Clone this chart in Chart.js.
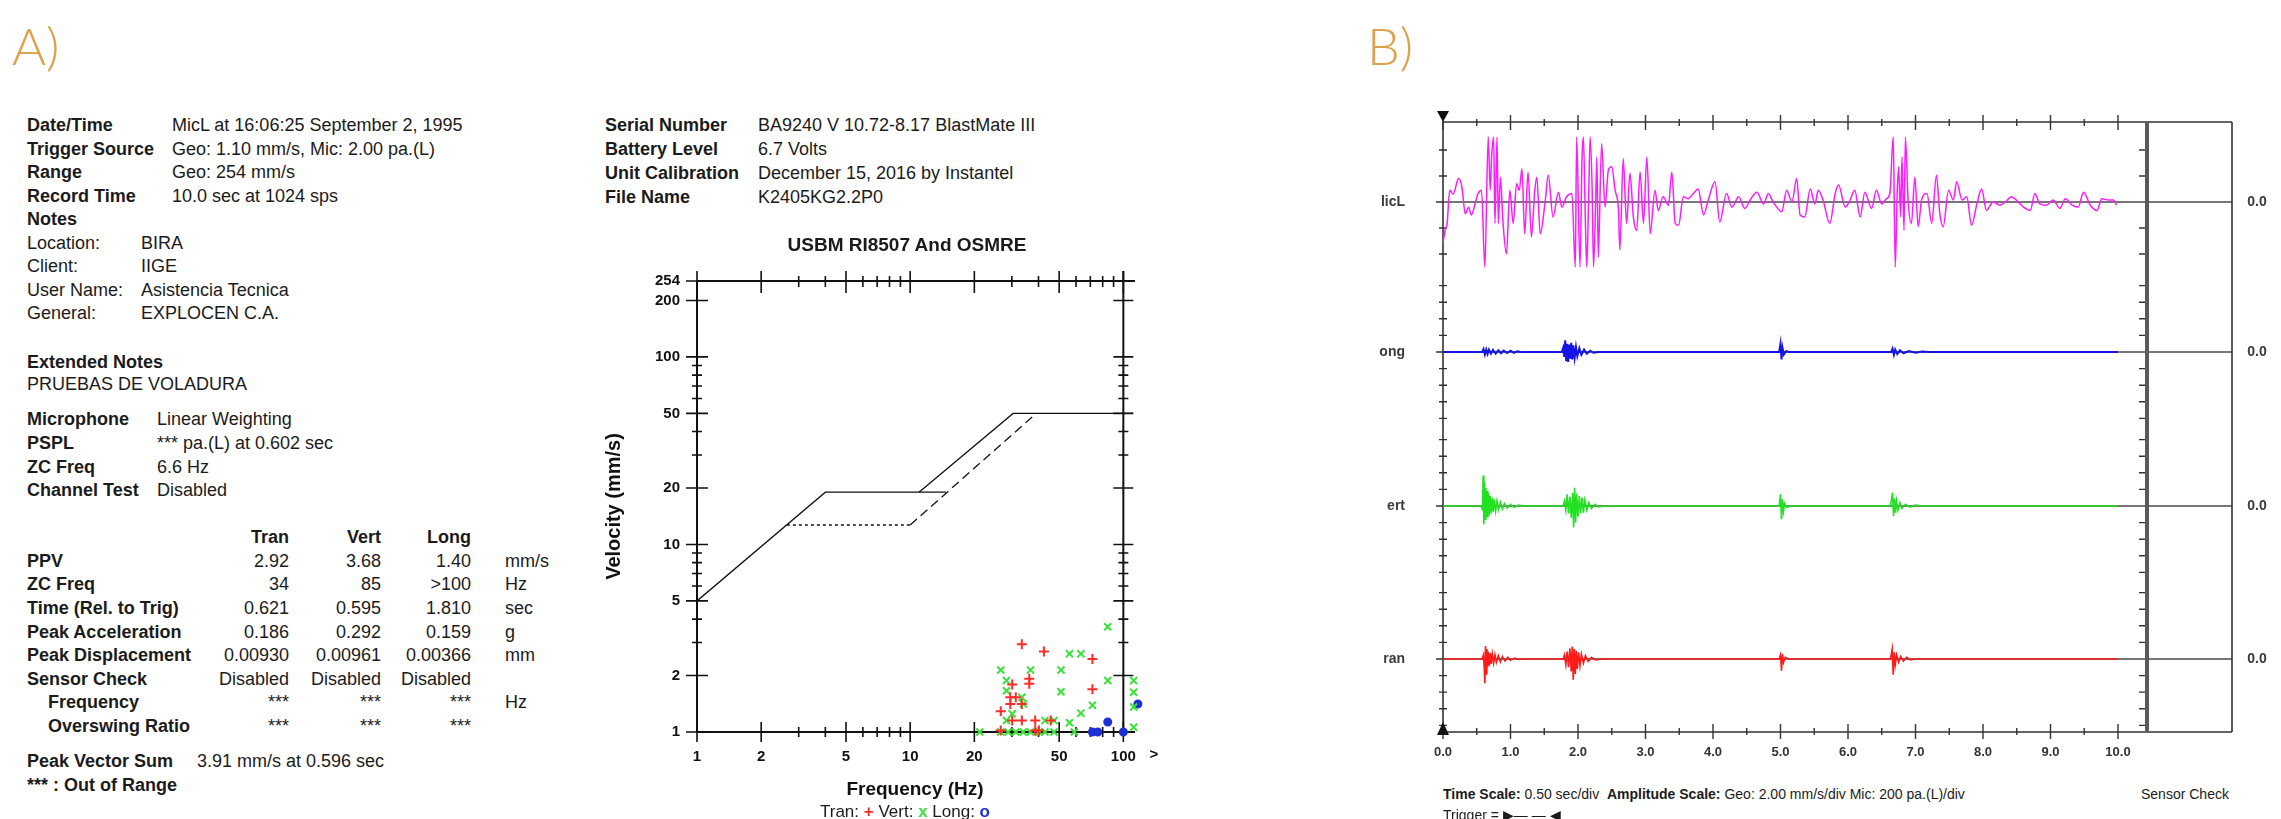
<!DOCTYPE html>
<html>
<head>
<meta charset="utf-8">
<title>Blast monitoring report</title>
<script src="https://cdn.jsdelivr.net/npm/chart.js@4.4.1/dist/chart.umd.min.js"></script>
<style>
  html, body { margin: 0; padding: 0; }
  body { width: 2281px; height: 819px; position: relative; overflow: hidden; background: #fff;
         font-family: "Liberation Sans", Arial, sans-serif; color: #1b1b1b; }
  .abs { position: absolute; white-space: nowrap; line-height: 24px; }
  .rep { font-size: 18px; }
  .b { font-weight: bold; }
  .small { font-size: 14px; }
  .tag { position: absolute; top: 19px; font-family: Lato, "Open Sans", sans-serif; font-weight: 300;
         font-size: 52px; line-height: 52px; color: #dca24c; }
  #wrapA { position: absolute; left: 560px; top: 255px; width: 640px; height: 564px; }
  #wrapB { position: absolute; left: 1360px; top: 95px; width: 921px; height: 680px; }
</style>
</head>
<body>
<div class="tag" style="left:12px">A)</div>
<div class="tag" style="left:1367px">B)</div>
<div id="wrapA"><canvas id="chartA"></canvas></div>
<div id="wrapB"><canvas id="chartB"></canvas></div>
<script>
// ---- chart A : USBM RI8507 / OSMRE frequency plot ----
const freqMajor = [1, 2, 5, 10, 20, 50, 100];
const freqMinor = [3, 4, 6, 7, 8, 9, 30, 40, 60, 70, 80, 90];
const velMajor = [1, 2, 5, 10, 20, 50, 100, 200, 254];
const velMinor = [3, 4, 6, 7, 8, 9, 30, 40, 60, 70, 80, 90];

// limit curves [Hz, mm/s]
const limitSolidLow = [[1, 5], [4, 19], [14.7, 19]];
const limitSolidHigh = [[11, 19], [30.4, 50], [111, 50]];
const limitDotted = [[2.64, 12.7], [10, 12.7]];
const limitDashed = [[10, 12.7], [39, 50]];

// zero crossing peaks [Hz, mm/s]
const tranPeaks = [[26.6, 1.29], [33.4, 2.94], [42.4, 2.69], [71.6, 2.45], [71.6, 1.69], [36.2, 1.92], [36.2, 1.81],
  [30.1, 1.79], [29.5, 1.53], [31.3, 1.53], [29.5, 1.41], [33.4, 1.41], [30.1, 1.15], [33.4, 1.15], [38.6, 1.15],
  [45.6, 1.15], [26.6, 1.02], [38.6, 1.02], [40.2, 1.02]];
const vertPeaks = [[26.6, 2.14], [36.7, 2.14], [51.0, 2.14], [55.9, 2.61], [63.2, 2.61], [84.5, 3.64], [84.5, 1.88],
  [111.8, 1.88], [111.8, 1.63], [111.8, 1.36], [28.3, 1.88], [28.3, 1.66], [33.4, 1.53], [34.0, 1.41], [51.0, 1.64],
  [71.6, 1.39], [63.2, 1.26], [55.9, 1.12], [30.1, 1.25], [28.3, 1.15], [42.9, 1.15], [47.3, 1.15], [21.2, 1.0],
  [26.6, 1.0], [28.8, 1.0], [31.3, 1.0], [33.9, 1.0], [36.7, 1.0], [40.2, 1.0], [42.9, 1.0], [47.3, 1.0], [58.9, 1.0],
  [111.8, 1.06]];
const longPeaks = [[71.6, 1.0], [75.9, 1.0], [84.5, 1.13], [100, 1.0], [117, 1.41], [117, 1.3], [117, 1.2],
  [117, 1.1], [117, 1.0]];

// ---- chart B : waveforms ----
const timeLabels = [0, 1, 2, 3, 4, 5, 6, 7, 8, 9, 10];
const timeHalf = [0.5, 1.5, 2.5, 3.5, 4.5, 5.5, 6.5, 7.5, 8.5, 9.5];
const micTicks = [-400, -200, 200, 400];
const geoTicks = [-8, -6, -4, -2, 2, 4, 6, 8];
const channelLabels = ['licL', 'ong', 'ert', 'ran'];

// MicL [sec, pa]
const micPoints = [[0.00,-320],[0.03,-220],[0.06,-170],[0.10,90],[0.15,60],[0.23,180],[0.28,115],[0.33,-90],[0.38,-40],
  [0.42,-100],[0.47,-25],[0.52,65],[0.57,90],[0.62,-500],[0.67,500],[0.70,90],[0.72,345],[0.75,500],[0.77,-165],
  [0.80,500],[0.82,-165],[0.85,190],[0.89,-165],[0.94,-400],[0.99,90],[1.04,-165],[1.09,140],[1.13,90],[1.17,255],
  [1.21,-245],[1.26,230],[1.31,-270],[1.36,90],[1.39,190],[1.44,-245],[1.51,-15],[1.56,205],[1.63,-115],[1.71,75],
  [1.76,-40],[1.83,40],[1.91,65],[1.96,-500],[1.98,500],[2.03,-500],[2.06,345],[2.08,500],[2.11,-165],[2.13,-500],
  [2.16,90],[2.18,500],[2.21,90],[2.23,-500],[2.26,-40],[2.28,345],[2.30,-425],[2.35,450],[2.40,-40],[2.45,245],
  [2.50,270],[2.55,90],[2.60,-65],[2.62,-370],[2.67,335],[2.72,-165],[2.77,220],[2.82,-115],[2.87,-220],[2.92,230],
  [2.97,-165],[3.02,345],[3.07,-245],[3.14,90],[3.19,-65],[3.26,40],[3.34,-25],[3.39,230],[3.44,-165],[3.49,-180],
  [3.56,40],[3.63,25],[3.71,65],[3.78,100],[3.86,-100],[3.93,15],[4.03,155],[4.10,-155],[4.20,65],[4.28,-40],
  [4.38,40],[4.47,-50],[4.55,15],[4.65,75],[4.75,-15],[4.82,65],[4.89,0],[5.02,-75],[5.09,90],[5.17,0],[5.24,180],
  [5.29,-100],[5.36,-115],[5.44,100],[5.51,-15],[5.56,90],[5.63,15],[5.73,-165],[5.81,65],[5.86,130],[5.96,-40],
  [6.03,15],[6.10,90],[6.18,-115],[6.25,75],[6.35,-50],[6.42,90],[6.50,-15],[6.57,25],[6.62,65],[6.67,500],
  [6.70,-500],[6.73,90],[6.75,270],[6.78,-115],[6.80,345],[6.83,-220],[6.85,500],[6.89,15],[6.94,-165],[6.99,190],
  [7.04,-190],[7.09,15],[7.17,65],[7.24,-165],[7.31,205],[7.36,-90],[7.41,-190],[7.49,90],[7.56,15],[7.61,155],
  [7.69,15],[7.76,40],[7.83,-180],[7.91,-15],[7.98,100],[8.05,-65],[8.15,0],[8.25,-25],[8.33,0],[8.42,40],[8.52,0],
  [8.60,-40],[8.70,-65],[8.77,65],[8.84,-15],[8.94,-25],[9.04,15],[9.14,-50],[9.22,25],[9.32,-25],[9.41,-40],
  [9.49,75],[9.59,-25],[9.69,-65],[9.76,25],[9.86,15],[9.93,15],[9.98,-25]];

// geophone channels [sec, mm/s]
const longPoints = [[0,0],[0.58,0],[0.60,0.35],[0.62,-0.3],[0.64,0.3],[0.66,-0.25],[0.68,0.28],[0.71,-0.2],[0.74,0.25],
  [0.78,-0.2],[0.82,0.2],[0.86,-0.15],[0.90,0.18],[0.95,-0.12],[1.0,0.15],[1.05,-0.1],[1.10,0.08],[1.15,0],
  [1.76,0],[1.78,0.5],[1.795,-0.6],[1.81,1.40],[1.825,-1.1],[1.84,1.0],[1.855,-1.2],[1.87,0.9],[1.885,-0.8],
  [1.90,1.1],[1.915,-0.9],[1.93,0.8],[1.95,-0.7],[1.97,0.6],[1.99,-0.5],[2.02,0.45],[2.05,-0.35],[2.09,0.3],
  [2.13,-0.2],[2.18,0.15],[2.23,-0.1],[2.3,0],[4.98,0],[5.0,1.0],[5.015,-0.9],[5.03,0.5],[5.05,-0.3],[5.08,0.1],
  [5.13,0],[6.64,0],[6.66,0.4],[6.68,-0.35],[6.70,0.3],[6.73,-0.25],[6.77,0.2],[6.82,-0.15],[6.9,0.12],[7.0,-0.1],
  [7.1,0.05],[7.2,0],[10.0,0]];
const vertPoints = [[0,0],[0.56,0],[0.585,-0.4],[0.595,3.68],[0.605,-2.2],[0.615,2.9],[0.625,-1.6],[0.635,2.2],
  [0.645,-1.3],[0.655,1.8],[0.665,-1.4],[0.675,1.5],[0.685,-1.1],[0.70,1.2],[0.715,-0.9],[0.73,1.0],[0.745,-0.7],
  [0.76,0.8],[0.78,-0.6],[0.80,0.6],[0.82,-0.45],[0.85,0.45],[0.88,-0.35],[0.91,0.3],[0.95,-0.25],[1.0,0.2],
  [1.05,-0.15],[1.12,0.1],[1.2,0],[1.78,0],[1.80,0.6],[1.82,-0.5],[1.84,1.4],[1.86,-0.9],[1.88,1.1],[1.90,-1.4],
  [1.92,1.6],[1.935,-2.6],[1.95,2.2],[1.965,-2.0],[1.98,1.5],[2.0,-1.3],[2.02,1.2],[2.04,-0.9],[2.06,1.0],
  [2.08,-0.8],[2.10,0.7],[2.13,-0.5],[2.16,0.4],[2.2,-0.3],[2.25,0.2],[2.3,-0.1],[2.4,0],[4.98,0],[5.0,1.4],
  [5.015,-1.6],[5.03,0.8],[5.045,-0.6],[5.06,0.3],[5.09,-0.15],[5.15,0],[6.63,0],[6.66,1.6],[6.675,-1.2],
  [6.69,0.9],[6.705,-0.8],[6.72,0.6],[6.74,-0.5],[6.77,0.4],[6.8,-0.3],[6.85,0.2],[6.92,-0.15],[7.0,0.1],
  [7.1,0],[10.0,0]];
const tranPoints = [[0,0],[0.58,0],[0.60,0.5],[0.612,-1.2],[0.621,-2.92],[0.63,1.55],[0.64,-1.8],[0.65,1.2],
  [0.66,-1.0],[0.67,0.9],[0.685,-0.8],[0.70,0.7],[0.715,-0.6],[0.73,0.6],[0.75,-0.5],[0.77,0.5],[0.79,-0.4],
  [0.82,0.4],[0.85,-0.35],[0.88,0.3],[0.92,-0.25],[0.96,0.2],[1.0,-0.15],[1.06,0.1],[1.12,-0.05],[1.2,0],
  [1.78,0],[1.80,0.5],[1.82,-0.7],[1.84,0.9],[1.86,-1.0],[1.88,1.3],[1.90,-1.5],[1.915,1.5],[1.93,-2.5],
  [1.945,1.2],[1.96,-1.8],[1.975,1.0],[1.99,-1.2],[2.01,0.8],[2.03,-0.8],[2.05,0.6],[2.08,-0.5],[2.11,0.4],
  [2.15,-0.3],[2.2,0.2],[2.26,-0.1],[2.35,0],[4.98,0],[5.0,0.5],[5.015,-1.4],[5.03,0.6],[5.045,-0.4],[5.07,0.2],
  [5.12,0],[6.63,0],[6.655,1.2],[6.67,-1.9],[6.685,0.8],[6.70,-0.7],[6.72,0.5],[6.75,-0.4],[6.78,0.3],
  [6.82,-0.25],[6.87,0.2],[6.93,-0.1],[7.0,0],[10.0,0]];

// ---- report text ----
const reportHead = [
  ['Date/Time', 'MicL at 16:06:25 September 2, 1995'],
  ['Trigger Source', 'Geo: 1.10 mm/s, Mic: 2.00 pa.(L)'],
  ['Range', 'Geo: 254 mm/s'],
  ['Record Time', '10.0 sec at 1024 sps']
];
const reportNotes = [['Location:', 'BIRA'], ['Client:', 'IIGE'], ['User Name:', 'Asistencia Tecnica'], ['General:', 'EXPLOCEN C.A.']];
const reportMic = [['Microphone', 'Linear Weighting'], ['PSPL', '*** pa.(L) at 0.602 sec'], ['ZC Freq', '6.6 Hz'], ['Channel Test', 'Disabled']];
const channelNames = ['Tran', 'Vert', 'Long'];
const tableRows = [
  ['PPV', ['2.92', '3.68', '1.40'], 'mm/s'],
  ['ZC Freq', ['34', '85', '>100'], 'Hz'],
  ['Time (Rel. to Trig)', ['0.621', '0.595', '1.810'], 'sec'],
  ['Peak Acceleration', ['0.186', '0.292', '0.159'], 'g'],
  ['Peak Displacement', ['0.00930', '0.00961', '0.00366'], 'mm'],
  ['Sensor Check', ['Disabled', 'Disabled', 'Disabled'], ''],
  ['Frequency', ['***', '***', '***'], 'Hz'],
  ['Overswing Ratio', ['***', '***', '***'], '']
];
const unitInfo = [
  ['Serial Number', 'BA9240 V 10.72-8.17 BlastMate III'],
  ['Battery Level', '6.7 Volts'],
  ['Unit Calibration', 'December 15, 2016 by Instantel'],
  ['File Name', 'K2405KG2.2P0']
];

function addText(x, yc, text, cls, align) {
  const d = document.createElement('div');
  d.className = 'abs ' + (cls || 'rep');
  d.textContent = text;
  d.style.top = (yc - 12) + 'px';
  if (align === 'right') {
    d.style.left = (x - 200) + 'px'; d.style.width = '200px'; d.style.textAlign = 'right';
  } else if (align === 'center') {
    d.style.left = (x - 300) + 'px'; d.style.width = '600px'; d.style.textAlign = 'center';
  } else {
    d.style.left = x + 'px';
  }
  document.body.appendChild(d);
  return d;
}

reportHead.forEach((r, i) => { addText(27, 125 + i * 23.5, r[0], 'rep b'); addText(172, 125 + i * 23.5, r[1]); });
addText(27, 219, 'Notes', 'rep b');
reportNotes.forEach((r, i) => { addText(27, 242.5 + i * 23.5, r[0]); addText(141, 242.5 + i * 23.5, r[1]); });
addText(27, 362, 'Extended Notes', 'rep b');
addText(27, 384, 'PRUEBAS DE VOLADURA');
reportMic.forEach((r, i) => { addText(27, 419 + i * 23.8, r[0], 'rep b'); addText(157, 419 + i * 23.8, r[1]); });
const colRight = [289, 381, 471];
channelNames.forEach((c, j) => addText(colRight[j], 537, c, 'rep b', 'right'));
tableRows.forEach((r, i) => {
  const y = 560.7 + i * 23.6;
  addText(i >= 6 ? 48 : 27, y, r[0], 'rep b');
  r[1].forEach((v, j) => addText(colRight[j], y, v, 'rep', 'right'));
  if (r[2]) addText(505, y, r[2]);
});
addText(27, 761, 'Peak Vector Sum', 'rep b');
addText(197, 761, '3.91 mm/s at 0.596 sec');
addText(27, 785, '***  : Out of Range', 'rep b');
unitInfo.forEach((r, i) => { addText(605, 125 + i * 24, r[0], 'rep b'); addText(758, 125 + i * 24, r[1]); });
const titleA = addText(907, 245, 'USBM RI8507 And OSMRE', 'rep b', 'center');
titleA.style.fontSize = '19px';
const legA = addText(905, 812, '', 'rep', 'center');
legA.innerHTML = 'Tran: <b style="color:#ff2b2b">+</b> Vert: <b style="color:#3ee03e">x</b> Long: <b style="color:#1f2fd6">o</b>';
legA.style.fontSize = '17px';
const scaleNote = addText(1443, 794, '', 'small');
scaleNote.innerHTML = '<b>Time Scale:</b> 0.50 sec/div&nbsp;&nbsp;<b>Amplitude Scale:</b> Geo: 2.00 mm/s/div Mic: 200 pa.(L)/div';
addText(2141, 794, 'Sensor Check', 'small');
addText(1443, 815, 'Trigger = \u25B6\u2014 \u2014 \u25C0', 'small');

// ---- helpers ----
const toXY = arr => arr.map(p => ({ x: p[0], y: p[1] }));
function seg(ctx, x1, y1, x2, y2) { ctx.moveTo(x1, y1); ctx.lineTo(x2, y2); }

const narrowBold = { family: "'Liberation Sans Narrow', 'Liberation Sans', Arial, sans-serif", size: 15, weight: 'bold' };

const frameA = {
  id: 'frameA',
  beforeDatasetsDraw(chart) {
    const { ctx, chartArea: a, scales: { x, y } } = chart;
    const x1 = x.getPixelForValue(1), x100 = x.getPixelForValue(100);
    const y1 = y.getPixelForValue(1), yTop = y.getPixelForValue(254);
    ctx.save();
    ctx.strokeStyle = '#111';
    ctx.lineWidth = 2;
    ctx.beginPath();
    seg(ctx, x1, yTop, x1, y1);
    seg(ctx, x1, y1, a.right + 2, y1);
    seg(ctx, x1, yTop, a.right + 2, yTop);
    seg(ctx, x100, yTop - 10, x100, y1);
    ctx.stroke();
    ctx.lineWidth = 1.6;
    ctx.beginPath();
    freqMajor.forEach(f => {
      const px = x.getPixelForValue(f);
      seg(ctx, px, y1 - 10, px, y1 + 10);
      seg(ctx, px, yTop - 10, px, yTop + 12);
    });
    freqMinor.forEach(f => {
      const px = x.getPixelForValue(f);
      seg(ctx, px, y1 - 5, px, y1 + 5);
      seg(ctx, px, yTop - 5, px, yTop + 6);
    });
    velMajor.forEach(v => {
      const py = y.getPixelForValue(v);
      seg(ctx, x1 - 11, py, x1 + 11, py);
      seg(ctx, x100 - 10, py, x100 + 10, py);
    });
    velMinor.forEach(v => {
      const py = y.getPixelForValue(v);
      seg(ctx, x1 - 5, py, x1 + 5, py);
      seg(ctx, x100 - 5, py, x100 + 5, py);
    });
    ctx.stroke();
    ctx.fillStyle = '#111';
    ctx.font = "bold 15px 'Liberation Sans', Arial, sans-serif";
    ctx.textAlign = 'center';
    ctx.textBaseline = 'middle';
    ctx.fillText('>', a.right + 21, y1 + 23);
    ctx.restore();
  }
};

function lineSet(points, dash) {
  return { data: toXY(points), showLine: true, borderColor: '#111', borderWidth: 1.3, borderDash: dash,
           pointRadius: 0, fill: false };
}
function pointSet(label, points, style, color, r) {
  return { label, data: toXY(points), pointStyle: style, pointRadius: r, borderColor: color, backgroundColor: color,
           pointBorderWidth: 2, showLine: false, clip: false };
}

new Chart(document.getElementById('chartA'), {
  type: 'scatter',
  data: {
    datasets: [
      lineSet(limitSolidLow, []),
      lineSet(limitSolidHigh, []),
      lineSet(limitDotted, [3, 3]),
      lineSet(limitDashed, [9, 5]),
      pointSet('Tran', tranPeaks, 'cross', '#ff2b2b', 5),
      pointSet('Vert', vertPeaks, 'crossRot', '#3ee03e', 5),
      pointSet('Long', longPeaks, 'circle', '#1f2fd6', 3.5)
    ]
  },
  options: {
    animation: false,
    responsive: true,
    maintainAspectRatio: false,
    layout: { padding: { top: 21, right: 67, left: 0, bottom: 0 } },
    plugins: { legend: { display: false }, tooltip: { enabled: false } },
    scales: {
      x: {
        type: 'logarithmic', min: 1, max: 111,
        afterBuildTicks: s => { s.ticks = freqMajor.map(v => ({ value: v })); },
        afterFit: s => { s.height = 87; },
        grid: { display: false, drawTicks: false },
        border: { display: false },
        ticks: { callback: v => String(v), font: narrowBold, color: '#111', padding: 16, maxRotation: 0, autoSkip: false },
        title: { display: true, text: 'Frequency (Hz)', color: '#111',
                 font: { size: 19, weight: 'bold' }, padding: { top: 0, bottom: 18 } }
      },
      y: {
        type: 'logarithmic', min: 1, max: 254,
        afterBuildTicks: s => { s.ticks = velMajor.map(v => ({ value: v })); },
        afterFit: s => { s.width = 137; },
        grid: { display: false, drawTicks: false },
        border: { display: false },
        ticks: { callback: v => String(v), font: narrowBold, color: '#111', padding: 17, autoSkip: false },
        title: { display: true, text: 'Velocity (mm/s)', color: '#111',
                 font: { size: 20, weight: 'bold' }, padding: { top: 42, bottom: 0 } }
      }
    }
  },
  plugins: [frameA]
});

// ---- chart B ----
const channelAxes = ['yMic', 'yLong', 'yVert', 'yTran'];

const frameB = {
  id: 'frameB',
  beforeDatasetsDraw(chart) {
    const { ctx, chartArea: a, scales } = chart;
    const x = scales.x;
    const boxRight = a.right + 87;
    ctx.save();
    ctx.strokeStyle = '#4a4a4a';
    ctx.lineWidth = 1.4;
    ctx.beginPath();
    channelAxes.forEach(id => {
      const y0 = scales[id].getPixelForValue(0);
      seg(ctx, a.left, y0, boxRight, y0);
    });
    ctx.stroke();
    ctx.strokeStyle = '#333';
    ctx.lineWidth = 1.6;
    ctx.beginPath();
    seg(ctx, a.left, a.top, boxRight, a.top);
    seg(ctx, a.left, a.bottom, boxRight, a.bottom);
    seg(ctx, a.left, a.top, a.left, a.bottom);
    seg(ctx, boxRight, a.top, boxRight, a.bottom);
    ctx.stroke();
    ctx.strokeStyle = '#5a5a5a';
    ctx.lineWidth = 4;
    ctx.beginPath();
    seg(ctx, a.right + 2, a.top, a.right + 2, a.bottom);
    ctx.stroke();
    // amplitude ticks
    ctx.strokeStyle = '#333';
    ctx.lineWidth = 1.4;
    ctx.beginPath();
    channelAxes.forEach(id => {
      const s = scales[id];
      const vals = id === 'yMic' ? micTicks : geoTicks;
      vals.forEach(v => {
        const py = s.getPixelForValue(v);
        seg(ctx, a.left - 4, py, a.left + 4, py);
        seg(ctx, a.right - 6, py, a.right, py);
      });
      const y0 = s.getPixelForValue(0);
      seg(ctx, a.left - 7, y0, a.left, y0);
    });
    // time ticks
    timeLabels.forEach(t => {
      const px = x.getPixelForValue(t);
      seg(ctx, px, a.top - 7, px, a.top + 8);
      seg(ctx, px, a.bottom - 8, px, a.bottom + 7);
    });
    timeHalf.forEach(t => {
      const px = x.getPixelForValue(t);
      seg(ctx, px, a.top - 3, px, a.top + 4);
      seg(ctx, px, a.bottom - 4, px, a.bottom + 3);
    });
    ctx.stroke();
    ctx.restore();
  },
  afterDraw(chart) {
    const { ctx, chartArea: a, scales } = chart;
    ctx.save();
    ctx.fillStyle = '#111';
    ctx.beginPath();
    ctx.moveTo(a.left - 6, a.top - 11); ctx.lineTo(a.left + 6, a.top - 11); ctx.lineTo(a.left, a.top);
    ctx.closePath(); ctx.fill();
    ctx.beginPath();
    ctx.moveTo(a.left - 6, a.bottom + 3); ctx.lineTo(a.left + 6, a.bottom + 3); ctx.lineTo(a.left, a.bottom - 10);
    ctx.closePath(); ctx.fill();
    ctx.font = "bold 14px 'Liberation Sans', Arial, sans-serif";
    ctx.fillStyle = '#3a3a3a';
    ctx.textBaseline = 'middle';
    channelAxes.forEach((id, i) => {
      const y0 = scales[id].getPixelForValue(0);
      ctx.textAlign = 'right';
      ctx.fillText(channelLabels[i], a.left - 38, y0);
      ctx.textAlign = 'center';
      ctx.fillText('0.0', a.right + 112, y0);
    });
    ctx.restore();
  }
};

function wave(points, axis, color, width, smooth) {
  return { data: toXY(points), yAxisID: axis, showLine: true, borderColor: color, borderWidth: width,
           pointRadius: 0, fill: false, tension: smooth ? 0.35 : 0, cubicInterpolationMode: smooth ? 'monotone' : 'default' };
}
function chanAxis(min, max) {
  return { type: 'linear', position: 'left', stack: 'wave', stackWeight: 1, min, max, display: false };
}

new Chart(document.getElementById('chartB'), {
  type: 'scatter',
  data: {
    datasets: [
      wave(micPoints, 'yMic', '#ff1aff', 1.5, true),
      wave(longPoints, 'yLong', '#1414e6', 2),
      wave(vertPoints, 'yVert', '#22e022', 1.6),
      wave(tranPoints, 'yTran', '#ff1a1a', 1.6)
    ]
  },
  options: {
    animation: false,
    responsive: true,
    maintainAspectRatio: false,
    layout: { padding: { top: 27, right: 136, left: 83, bottom: 0 } },
    plugins: { legend: { display: false }, tooltip: { enabled: false } },
    scales: {
      x: {
        type: 'linear', min: 0, max: 10.4,
        afterBuildTicks: s => { s.ticks = timeLabels.map(v => ({ value: v })); },
        afterFit: s => { s.height = 43; },
        grid: { display: false, drawTicks: false },
        border: { display: false },
        ticks: { callback: v => v.toFixed(1), padding: 13, color: '#333', maxRotation: 0, autoSkip: false,
                 font: { size: 13, weight: 'bold' } }
      },
      yTran: chanAxis(-8.8, 9.58),
      yVert: chanAxis(-8.86, 9.52),
      yLong: chanAxis(-9.04, 9.34),
      yMic: chanAxis(-558, 615)
    }
  },
  plugins: [frameB]
});
</script>
</body>
</html>
